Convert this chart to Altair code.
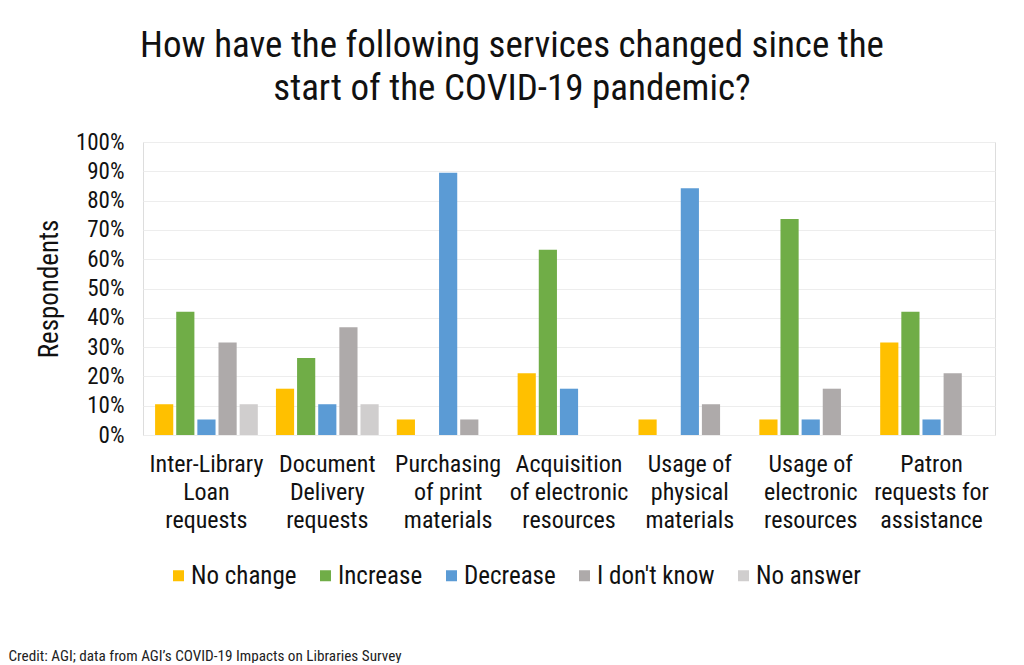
import altair as alt
import pandas as pd

categories = [
    "Inter-Library|Loan|requests",
    "Document|Delivery|requests",
    "Purchasing|of print|materials",
    "Acquisition|of electronic|resources",
    "Usage of|physical|materials",
    "Usage of|electronic|resources",
    "Patron|requests for|assistance",
]
series = ["No change", "Increase", "Decrease", "I don't know", "No answer"]
colors = ["#FFC000", "#70AD47", "#5B9BD5", "#AEAAAA", "#D0CECE"]

no_change = [0.105, 0.158, 0.053, 0.211, 0.053, 0.053, 0.316]
increase = [0.421, 0.263, 0.0, 0.632, 0.0, 0.737, 0.421]
decrease = [0.053, 0.105, 0.895, 0.158, 0.842, 0.053, 0.053]
dont_know = [0.316, 0.368, 0.053, 0.0, 0.105, 0.158, 0.211]
no_answer = [0.105, 0.105, 0.0, 0.0, 0.0, 0.0, 0.0]

values = [no_change, increase, decrease, dont_know, no_answer]
rows = []
for s, vals in zip(series, values):
    for c, v in zip(categories, vals):
        rows.append({"Service": c, "Response": s, "Value": v})
df = pd.DataFrame(rows)

FONT = "Roboto Condensed, Liberation Sans Narrow, Roboto, sans-serif"

chart = alt.Chart(df).mark_bar().encode(
    x=alt.X(
        "Service:N",
        sort=categories,
        scale=alt.Scale(paddingInner=0.15, paddingOuter=0.1),
        axis=alt.Axis(
            title="Credit: AGI; data from AGI\u2019s COVID-19 Impacts on Libraries Survey",
            titleX=-135,
            titleY=225,
            titleAlign="left",
            titleAnchor="start",
            titleBaseline="alphabetic",
            titleFont=FONT,
            titleFontSize=15.2,
            titleFontWeight="normal",
            titleColor="#222222",
            labelExpr="split(datum.label, '|')",
            labelAngle=0,
            labelFont=FONT,
            labelFontSize=24,
            labelColor="#111111",
            labelLineHeight=28,
            labelPadding=17,
            ticks=False,
            domain=False,
            labelBaseline="top",
        ),
    ),
    xOffset=alt.XOffset("Response:N", sort=series, scale=alt.Scale(paddingInner=0.14)),
    y=alt.Y(
        "Value:Q",
        scale=alt.Scale(domain=[0, 1]),
        axis=alt.Axis(
            title="Respondents",
            titleFont=FONT,
            titleFontSize=27,
            titleFontWeight="normal",
            titleColor="#111111",
            titlePadding=12,
            format=".0%",
            values=[i / 10 for i in range(11)],
            labelFont=FONT,
            labelFontSize=23,
            labelColor="#111111",
            labelPadding=19,
            ticks=False,
            domain=False,
            gridColor="#EDEDED",
        ),
    ),
    color=alt.Color(
        "Response:N",
        sort=series,
        scale=alt.Scale(domain=series, range=colors),
        legend=alt.Legend(
            title=None,
            orient="none",
            direction="horizontal",
            legendX=23,
            legendY=421,
            symbolType="square",
            symbolSize=121,
            symbolStrokeWidth=0,
            labelFont=FONT,
            labelFontSize=25,
            labelColor="#111111",
            labelOffset=0,
            columnPadding=16,
        ),
    ),
).properties(
    width=852,
    height=293,
    title=alt.TitleParams(
        text=["How have the following services changed since the", "start of the COVID-19 pandemic?"],
        font=FONT,
        fontSize=37,
        fontWeight="normal",
        color="#111111",
        anchor="middle",
        dx=-57,
        offset=23,
        lineHeight=43,
    ),
    autosize=alt.AutoSizeParams(type="none"),
    padding={"left": 135, "top": 134, "right": 21, "bottom": 228},
).configure_view(stroke=None).configure(background="white")

chart.save("out.html", embed_options={"renderer": "svg", "actions": False})
